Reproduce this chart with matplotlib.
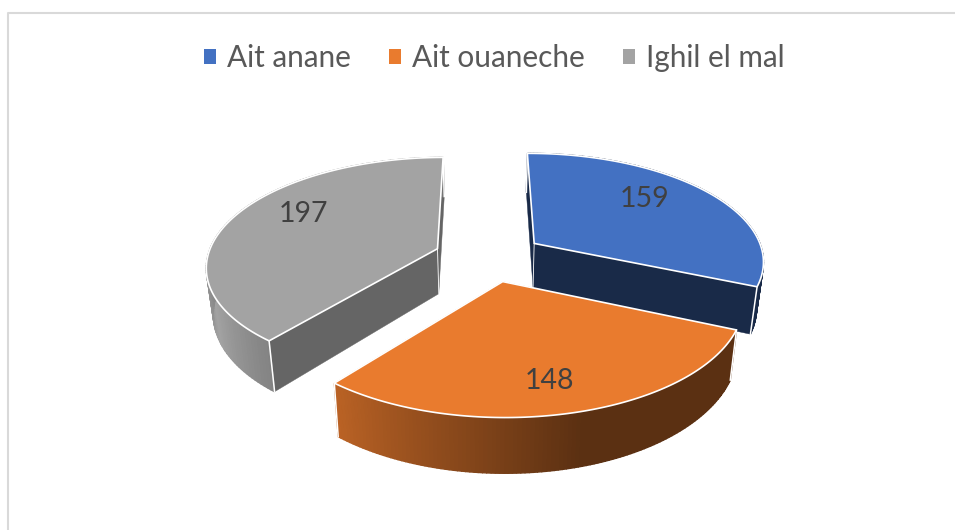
import numpy as np
import matplotlib
matplotlib.use("Agg")
import matplotlib.pyplot as plt
from matplotlib.patches import Polygon, Patch

categories = ["Ait anane", "Ait ouaneche", "Ighil el mal"]
values = [159, 148, 197]
colors = ["#4371C2", "#E97B2E", "#A3A3A3"]
wall_floor = [0.37, 0.39, 0.72]
cut_shade = [0.37, 0.39, 0.62]
label_pos = [(645, 199), (549, 381), (303, 214)]

# projection parameters
CX, CY, R, Q, K = 489, 256.8, 230, 107.3, 0.15
EXPLODE_X, EXPLODE_Y, DEPTH, SHRINK = 0.24, 0.23, 45.5, 0.975
START = -0.3

plt.rcParams['font.family'] = ['Lato', 'DejaVu Sans']
fig = plt.figure(figsize=(9.55, 5.30), dpi=100)
ax = fig.add_axes([0, 0, 1, 1])
ax.set_xlim(0, 955)
ax.set_ylim(530, 0)
ax.axis('off')

# chart frame
ax.plot([8, 8, 955], [530, 13, 13], color="#D9D9D9", lw=1.5, zorder=0)


def project(X, Y, bottom=False):
    w = 1 + K * Y
    x = R * X / w
    y = Q * Y / w
    if bottom:
        return CX + x * SHRINK, CY - y + DEPTH / w
    return CX + x, CY - y


def shade(rgb, f):
    return tuple(np.clip(np.array(rgb) * f, 0, 1))


total = sum(values)
angles = np.cumsum([0] + values) / total * 360 + START
order = [2, 0, 1]
z = 1
for i in order:
    a0, a1 = angles[i], angles[i + 1]
    mid = np.radians((a0 + a1) / 2)
    ex, ey = EXPLODE_X * np.sin(mid), EXPLODE_Y * np.cos(mid)
    th = np.radians(np.linspace(a0, a1, 121))
    ox, oy = ex + np.sin(th), ey + np.cos(th)
    base = matplotlib.colors.to_rgb(colors[i])

    tx, ty = project(ox, oy)
    bx, by = project(ox, oy, True)
    ax_t, ay_t = project(ex, ey)
    ax_b, ay_b = project(ex, ey, True)

    # radial cut faces
    for k in (0, -1):
        ax.add_patch(Polygon([(ax_t, ay_t), (tx[k], ty[k]), (bx[k], by[k]), (ax_b, ay_b)],
                             closed=True, fc=shade(base, cut_shade[i]),
                             ec=shade(base, cut_shade[i]), lw=0.3, zorder=z))
    z += 1
    # outer wall, shaded along the arc
    for j in range(len(th) - 1):
        d = abs(np.degrees(th[j]) - 245)
        f = max(wall_floor[i], 1 - 0.0075 * d)
        c = shade(base, f)
        ax.add_patch(Polygon([(tx[j], ty[j]), (tx[j + 1], ty[j + 1]),
                              (bx[j + 1], by[j + 1]), (bx[j], by[j])],
                             closed=True, fc=c, ec=c, lw=1.0, zorder=z))
    z += 1
    # white corner lines
    for k in (0, -1):
        ax.plot([tx[k], bx[k]], [ty[k], by[k]], color="white", lw=1.1, zorder=z)
    ax.plot([ax_t, ax_b], [ay_t, ay_b], color="white", lw=0.6, zorder=z)
    # top face
    pts = np.column_stack([np.r_[ax_t, tx], np.r_[ay_t, ty]])
    ax.add_patch(Polygon(pts, closed=True, fc=colors[i], ec="white", lw=1.2,
                         joinstyle="round", zorder=z + 1))
    # data label
    ax.text(label_pos[i][0], label_pos[i][1], str(values[i]), ha="center", va="center",
            fontsize=20.5, color="#404040", zorder=50)
    z += 2

handles = [Patch(fc=c, ec="none") for c in colors]
ax.legend(handles, categories, ncol=3, loc="center", bbox_to_anchor=(494.5 / 955, 1 - 58 / 530),
          frameon=False, fontsize=21.4, labelcolor="#595959", handlelength=0.42, handleheight=0.42,
          handletextpad=0.37, columnspacing=1.27, borderpad=0)

fig.savefig("out.png", dpi=100)
